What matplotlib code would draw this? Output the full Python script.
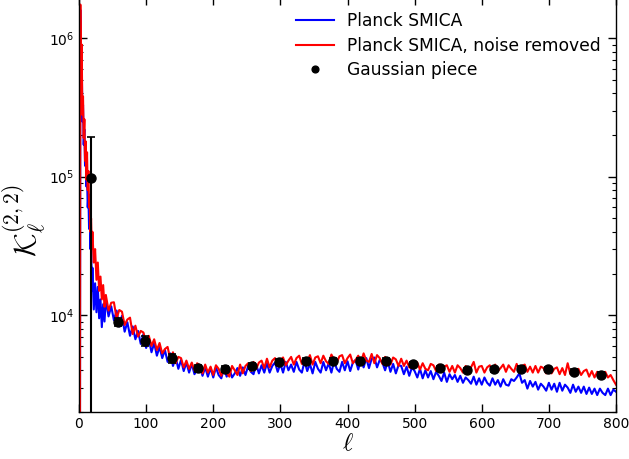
import numpy as np
import matplotlib
matplotlib.use('Agg')
import matplotlib.pyplot as plt

plt.rcParams['mathtext.fontset'] = 'cm'
plt.rcParams['font.family'] = ['DejaVu Sans']

# multipoles: every l at low l, then every 4
ell_low = [0, 1, 2, 3, 4, 5, 6, 7, 8, 9, 10, 11, 12, 13, 14, 15, 16, 17, 18, 19,
           20, 22, 24, 26, 28, 30, 32, 34, 36, 38]
ell_high = list(range(40, 801, 4))
ell = ell_low + ell_high

# Planck SMICA, noise removed
red_low = [1, 1, 1750000, 500000, 900000, 280000, 380000, 190000, 260000, 130000,
           180000, 95000, 150000, 80000, 110000, 60000, 70000, 40000, 50000, 30000,
           40000, 24000, 30000, 18000, 24000, 15000, 19000, 13000, 16500, 11500]
red_high = [14000, 10800, 12300, 12400, 9500, 10900, 10600, 8500, 9300, 9600,
            7300, 8400, 7000, 7700, 7500, 6300, 7100, 6000, 6700, 5600,
            6300, 5300, 5700, 5900, 4800, 5400, 4500, 5000, 4900, 4200,
            4700, 4100, 4550, 4000, 4500, 4350, 3800, 4400, 3850, 4250,
            3700, 4350, 4100, 3650, 4250, 3850, 3600, 4300, 4000, 3700,
            4400, 3800, 4300, 4500, 3950, 4600, 4100, 4550, 4700, 4150,
            4850, 4200, 4700, 4900, 4300, 4750, 4950, 4350, 4700, 5000,
            4400, 4900, 5100, 4450, 4800, 4600, 5150, 4400, 4950, 5050,
            4500, 5100, 4650, 4450, 5200, 4800, 4550, 5050, 5150, 4500,
            4900, 5200, 4500, 4750, 5100, 4550, 5300, 4700, 4600, 5250,
            4500, 5150, 4900, 4450, 5000, 4600, 4400, 4950, 4800, 4300,
            4850, 4300, 4700, 4200, 4150, 4650, 4550, 4050, 4500, 4100,
            4000, 4450, 4350, 3950, 4400, 3900, 4250, 4350, 3900, 4300,
            3850, 4350, 4150, 3850, 4300, 3900, 4200, 4600, 3850, 4250,
            4300, 3850, 4200, 4350, 3900, 4400, 3950, 4150, 4400, 3900,
            4350, 4100, 3900, 4450, 3950, 4300, 4400, 3900, 4250, 3850,
            4300, 3850, 4250, 4150, 3800, 4250, 3800, 4100, 4200, 3750,
            4150, 3700, 4500, 3750, 4050, 3650, 4100, 3700, 3950, 4050,
            3600, 3950, 3550, 3900, 3850, 3500, 3900, 3550, 3700, 3400,
            3150]

# Planck SMICA
blue_low = [1, 1, 1600000, 700000, 800000, 250000, 330000, 170000, 220000, 120000,
            150000, 85000, 100000, 60000, 75000, 42000, 55000, 30000, 40000, 15000,
            22000, 11000, 17000, 10500, 16000, 9500, 13000, 8200, 12000, 9000]
blue_high = [13000, 9800, 11600, 9200, 10800, 8300, 9900, 7600, 8900, 7100,
             8300, 6700, 7700, 6200, 7300, 5800, 6700, 5400, 6300, 5100,
             5900, 4900, 5600, 4600, 5300, 4300, 4950, 4100, 4750, 3950,
             4550, 3850, 4450, 3750, 4050, 4300, 3650, 4200, 3600, 4150,
             3550, 4200, 3700, 3500, 4150, 3600, 4100, 3550, 3800, 4150,
             3650, 4200, 3700, 4300, 3900, 3750, 4400, 3800, 4350, 3850,
             4500, 3850, 4300, 4550, 3900, 4450, 3850, 4600, 4000, 4400,
             3900, 4600, 4050, 3850, 4650, 3950, 4450, 3800, 4600, 4100,
             3850, 4600, 4000, 4500, 3850, 4650, 4100, 3900, 4600, 4000,
             4650, 3950, 4550, 4750, 4050, 4800, 4200, 4900, 4150, 4850,
             4950, 4200, 4750, 4550, 4000, 4650, 3900, 4450, 3800, 4350,
             4300, 3750, 4250, 3650, 4200, 3950, 3550, 4100, 3500, 4000,
             3550, 3950, 3450, 3900, 3650, 3350, 3850, 3300, 3750, 3450,
             3700, 3300, 3650, 3250, 3550, 3400, 3200, 3600, 3150, 3500,
             3150, 3550, 3250, 3100, 3500, 3150, 3400, 3050, 3450, 3150,
             3100, 3450, 3350, 3550, 3800, 3250, 3400, 2950, 3350, 3050,
             3300, 2900, 3200, 3050, 2850, 3250, 2900, 3200, 2800, 3250,
             2850, 3150, 3000, 2750, 3150, 2800, 3050, 2750, 3050, 2700,
             3000, 2700, 2950, 2650, 2950, 2750, 2650, 2950, 2650, 2900,
             2800]

red = red_low + red_high
blue = blue_low + blue_high

# Gaussian piece
ell_g = [18, 58, 98, 138, 178, 218, 258, 298, 338, 378,
         418, 458, 498, 538, 578, 618, 658, 698, 738, 778]
gauss = [98000, 8950, 6520, 4900, 4140, 4080, 4300, 4570, 4680, 4680,
         4700, 4680, 4430, 4140, 4030, 4080, 4120, 4080, 3920, 3730]
gauss_err_lo = [97000, 650, 550, 350, 250, 220, 220, 220, 200, 200,
                200, 190, 180, 170, 160, 160, 160, 150, 150, 150]
gauss_err_hi = [96000, 650, 550, 350, 250, 220, 220, 220, 200, 200,
                200, 190, 180, 170, 160, 160, 160, 150, 150, 150]

fig = plt.figure(figsize=(6.29, 4.59), dpi=100)
ax = fig.add_axes([79 / 629, (459 - 412) / 459, 537 / 629, 415.5 / 459])

ax.plot(ell, blue, color='b', lw=1.5, label='Planck SMICA')
ax.plot(ell, red, color='r', lw=1.5, label='Planck SMICA, noise removed')
ax.errorbar(ell_g, gauss, yerr=[gauss_err_lo, gauss_err_hi], fmt='none',
            ecolor='k', elinewidth=1.5, capsize=3, capthick=1.2, zorder=4)
ax.plot(ell_g, gauss, 'ko', ms=6.5, label='Gaussian piece', zorder=5)

ax.set_yscale('log')
ax.set_xlim(0, 800)
ax.set_ylim(2000, 2e6)
ax.set_xticks(range(0, 801, 100))

ax.tick_params(which='both', direction='in', top=True, right=True, labelsize=10)
ax.tick_params(which='major', length=6, width=1)
ax.tick_params(which='minor', length=3, width=0.8)
for s in ax.spines.values():
    s.set_linewidth(1.0)

ax.set_xlabel(r'$\ell$', fontsize=18, labelpad=0)
ax.set_ylabel(r'$\mathcal{K}_\ell^{(2,2)}$', fontsize=22)
ax.yaxis.set_label_coords(-31 / 537, 0.5 - 17 / 415.5)

leg = ax.legend(loc='upper right', bbox_to_anchor=(1 - 3 / 537, 1 - 4 / 415.5),
                frameon=False, fontsize=12.3, numpoints=1,
                markerscale=0.75, handlelength=2.2, borderaxespad=0.3,
                labelspacing=0.38, handletextpad=0.8)

fig.savefig('out.png', dpi=100)
